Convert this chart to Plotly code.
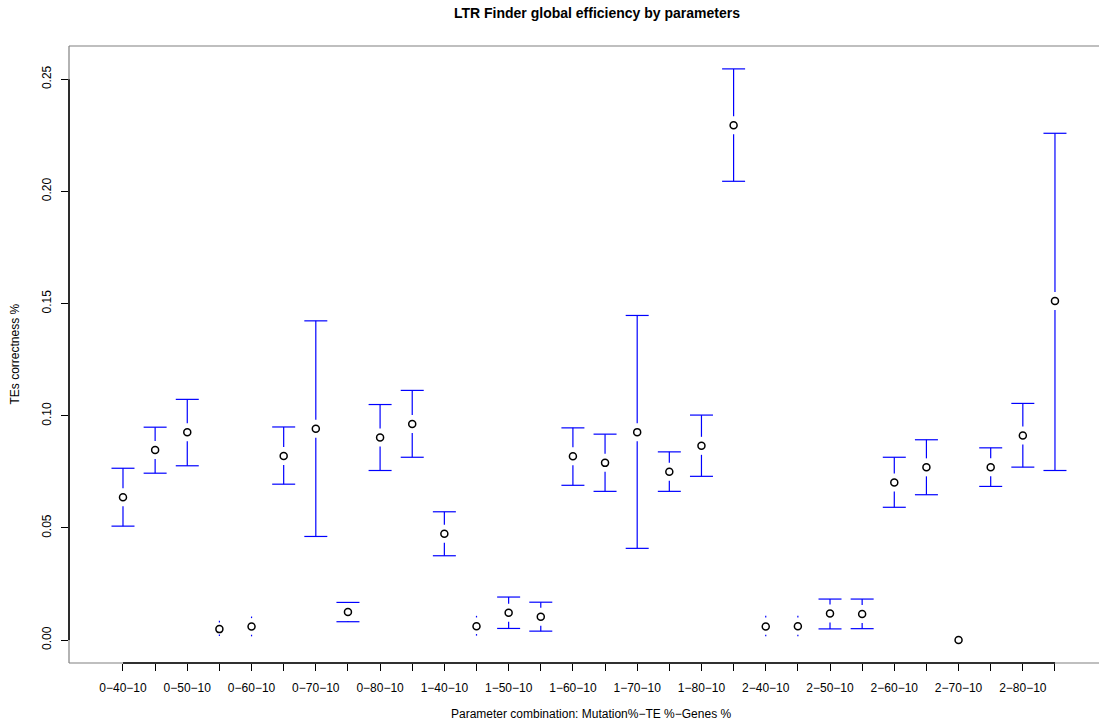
import plotly.graph_objects as go

# ---------------- data ----------------
tick_labels = ["0−40−10", "0−50−10", "0−60−10", "0−70−10", "0−80−10",
               "1−40−10", "1−50−10", "1−60−10", "1−70−10", "1−80−10",
               "2−40−10", "2−50−10", "2−60−10", "2−70−10", "2−80−10"]
x_pos = list(range(1, 31))
means = [0.0637, 0.0847, 0.0926, 0.0049, 0.0061, 0.0821, 0.0942, 0.0125, 0.0903, 0.0963,
         0.0474, 0.0062, 0.0122, 0.0104, 0.0819, 0.0790, 0.0927, 0.0750, 0.0866, 0.2295,
         0.0061, 0.0062, 0.0119, 0.0116, 0.0703, 0.0770, 0.0000, 0.0770, 0.0912, 0.1511]
upper = [0.0766, 0.0949, 0.1073, 0.0079, 0.0098, 0.0950, 0.1423, 0.0168, 0.1050, 0.1113,
         0.0572, 0.0101, 0.0192, 0.0169, 0.0946, 0.0918, 0.1447, 0.0839, 0.1003, 0.2546,
         0.0101, 0.0101, 0.0183, 0.0183, 0.0815, 0.0893, 0.0000, 0.0857, 0.1055, 0.2259]
lower = [0.0508, 0.0744, 0.0777, 0.0025, 0.0024, 0.0695, 0.0462, 0.0082, 0.0756, 0.0815,
         0.0376, 0.0027, 0.0052, 0.0040, 0.0690, 0.0663, 0.0409, 0.0663, 0.0730, 0.2045,
         0.0024, 0.0024, 0.0050, 0.0051, 0.0592, 0.0648, 0.0000, 0.0685, 0.0771, 0.0756]
y_ticks = [0.00, 0.05, 0.10, 0.15, 0.20, 0.25]

# ---------------- layout geometry ----------------
W, H = 1099, 727
ML, MR, MT, MB = 69, 0, 46, 64
XR = [-0.68, 31.37]
YR = [-0.0102, 0.2648]
plot_w = W - ML - MR
plot_h = H - MT - MB
px_x = plot_w / (XR[1] - XR[0])   # pixels per x unit
px_y = plot_h / (YR[1] - YR[0])   # pixels per y unit

GAP = 9 / px_y        # gap around the point (plotCI style)
CAP = 11.5 / px_x     # half cap width
DOT = 1.6 / px_y

bx, by = [], []
def seg(x0, y0, x1, y1):
    bx.extend([x0, x1, None])
    by.extend([y0, y1, None])

for x, m, u, l in zip(x_pos, means, upper, lower):
    if u - m > GAP:
        seg(x, m + GAP, x, u)
        seg(x - CAP, u, x + CAP, u)
    elif u > m:
        seg(x, u, x, u + DOT)
    if m - l > GAP:
        seg(x, l, x, m - GAP)
        seg(x - CAP, l, x + CAP, l)
    elif m > l:
        seg(x, l, x, l - DOT)

fig = go.Figure()
fig.add_trace(go.Scatter(x=bx, y=by, mode="lines",
                         line=dict(color="#0000FF", width=1.2),
                         hoverinfo="skip", showlegend=False))
fig.add_trace(go.Scatter(x=x_pos, y=means, mode="markers",
                         marker=dict(symbol="circle-open", size=7, color="black",
                                     line=dict(width=1.5, color="black")),
                         showlegend=False))

full_text = [tick_labels[i // 2] if i % 2 == 0 else "" for i in range(len(x_pos))]

FONT = "Liberation Sans, Arial, Helvetica, sans-serif"
gray = "#808080"
shapes = [
    # box (gray)
    dict(type="line", xref="paper", yref="paper", x0=0, x1=1, y0=1, y1=1,
         line=dict(color=gray, width=1.2)),
    dict(type="line", xref="paper", yref="paper", x0=0, x1=1, y0=0, y1=0,
         line=dict(color=gray, width=1.2)),
    dict(type="line", xref="paper", yref="paper", x0=0, x1=0, y0=0, y1=1,
         line=dict(color=gray, width=1.2)),
    # axis lines (black, tick range)
    dict(type="line", xref="x", yref="paper", x0=x_pos[0], x1=x_pos[-1], y0=0, y1=0,
         line=dict(color="black", width=1.5)),
    dict(type="line", xref="paper", yref="y", x0=0, x1=0, y0=y_ticks[0], y1=y_ticks[-1],
         line=dict(color="black", width=1.5)),
]

fig.update_layout(
    width=W, height=H,
    margin=dict(l=ML, r=MR, t=MT, b=MB, pad=0),
    plot_bgcolor="white", paper_bgcolor="white",
    font=dict(family=FONT, size=12, color="black"),
    title=dict(text="<b>LTR Finder global efficiency by parameters</b>",
               font=dict(family=FONT, size=14, color="black"),
               x=597 / W, xanchor="center", xref="container",
               y=1 - 13 / H, yanchor="middle", yref="container"),
    xaxis=dict(range=XR, tickmode="array", tickvals=x_pos, ticktext=full_text,
               ticks="outside", ticklen=7, tickwidth=1.2, tickcolor="black",
               showgrid=False, zeroline=False, showline=False,
               tickfont=dict(size=12), tickangle=0, ticklabelstandoff=7),
    yaxis=dict(range=YR, tickmode="array", tickvals=y_ticks,
               ticktext=[f"{v:.2f}" for v in y_ticks],
               ticks="outside", ticklen=7, tickwidth=1.2, tickcolor="black",
               showgrid=False, zeroline=False, showline=False,
               tickfont=dict(size=12), tickangle=-90, ticklabelstandoff=5),
    shapes=shapes,
    annotations=[
        dict(text="Parameter combination: Mutation%−TE %−Genes %",
             xref="paper", yref="paper", x=(591 - ML) / plot_w,
             y=-(714 - (H - MB)) / plot_h, xanchor="center", yanchor="middle",
             showarrow=False, font=dict(size=12)),
        dict(text="TEs correctness %", textangle=-90,
             xref="paper", yref="paper", x=-(ML - 14) / plot_w, y=0.5,
             xanchor="center", yanchor="middle", showarrow=False, font=dict(size=12)),
    ],
)

fig.write_html("out.html")
